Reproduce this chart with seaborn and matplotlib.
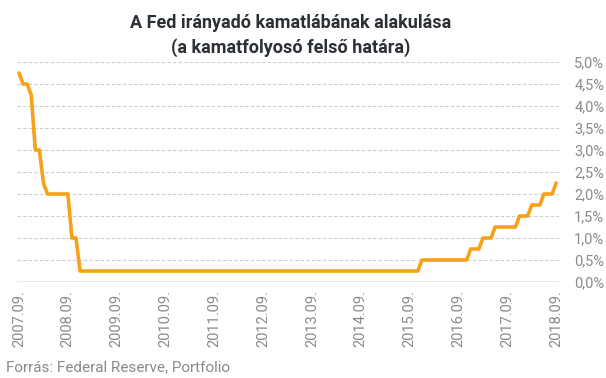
import numpy as np
import pandas as pd
import matplotlib
matplotlib.use("Agg")
import matplotlib.pyplot as plt
import seaborn as sns

# Fed funds target, upper bound (%), monthly from 2007.09 to 2018.09
rate = [
    4.75, 4.5, 4.5, 4.25,                                              # 2007.09-12
    3.0, 3.0, 2.25, 2.0, 2.0, 2.0, 2.0, 2.0, 2.0, 1.0, 1.0, 0.25,      # 2008
    0.25, 0.25, 0.25, 0.25, 0.25, 0.25, 0.25, 0.25, 0.25, 0.25, 0.25, 0.25,  # 2009
    0.25, 0.25, 0.25, 0.25, 0.25, 0.25, 0.25, 0.25, 0.25, 0.25, 0.25, 0.25,  # 2010
    0.25, 0.25, 0.25, 0.25, 0.25, 0.25, 0.25, 0.25, 0.25, 0.25, 0.25, 0.25,  # 2011
    0.25, 0.25, 0.25, 0.25, 0.25, 0.25, 0.25, 0.25, 0.25, 0.25, 0.25, 0.25,  # 2012
    0.25, 0.25, 0.25, 0.25, 0.25, 0.25, 0.25, 0.25, 0.25, 0.25, 0.25, 0.25,  # 2013
    0.25, 0.25, 0.25, 0.25, 0.25, 0.25, 0.25, 0.25, 0.25, 0.25, 0.25, 0.25,  # 2014
    0.25, 0.25, 0.25, 0.25, 0.25, 0.25, 0.25, 0.25, 0.25, 0.25, 0.25, 0.5,   # 2015
    0.5, 0.5, 0.5, 0.5, 0.5, 0.5, 0.5, 0.5, 0.5, 0.5, 0.5, 0.75,            # 2016
    0.75, 0.75, 1.0, 1.0, 1.0, 1.25, 1.25, 1.25, 1.25, 1.25, 1.25, 1.5,     # 2017
    1.5, 1.5, 1.75, 1.75, 1.75, 2.0, 2.0, 2.0, 2.25,                        # 2018.01-09
]

tick_labels = ["2007.09.", "2008.09.", "2009.09.", "2010.09.", "2011.09.", "2012.09.",
               "2013.09.", "2014.09.", "2015.09.", "2016.09.", "2017.09.", "2018.09."]
y_ticks = [0.0, 0.5, 1.0, 1.5, 2.0, 2.5, 3.0, 3.5, 4.0, 4.5, 5.0]

df = pd.DataFrame({"month": np.arange(len(rate)), "rate": rate})

sns.set_theme(style="white")
plt.rcParams["font.family"] = ["Roboto", "DejaVu Sans"]

fig = plt.figure(figsize=(6.06, 3.78), dpi=100)
ax = fig.add_axes([17 / 606, 1 - 282 / 378, (559 - 17) / 606, (282 - 62) / 378])

for v in y_ticks[1:]:
    ax.axhline(v, color="#cccccc", lw=0.8, ls=(0, (3, 2)), zorder=0)
ax.axhline(0, color="#8c8c8c", lw=1.0, zorder=1)

sns.lineplot(data=df, x="month", y="rate", color="#F7A11A", lw=2.6, ax=ax)

ax.set_xlim(-0.5, len(rate) - 0.3)
ax.set_ylim(0, 5.0)
ax.set_xticks(np.arange(0, len(rate), 12))
ax.set_xticklabels(tick_labels, rotation=90, fontsize=10.5, color="#8a8a8a")
ax.set_yticks(y_ticks)
ax.set_yticklabels([f"{v:.1f}%".replace(".", ",") for v in y_ticks],
                   fontsize=10.5, color="#8a8a8a")
ax.yaxis.tick_right()
ax.tick_params(axis="y", length=0, pad=11)
ax.tick_params(axis="x", length=0, pad=6)
ax.set_xlabel("")
ax.set_ylabel("")
for s in ax.spines.values():
    s.set_visible(False)

fig.text(291 / 606, 1 - 14 / 378, "A Fed irányadó kamatlábának alakulása\n(a kamatfolyosó felső határa)",
         ha="center", va="top", fontsize=13, fontweight="bold", color="#2b2f36", linespacing=1.4)
fig.text(6 / 606, 1 - 367 / 378, "Forrás: Federal Reserve, Portfolio",
         ha="left", va="center", fontsize=11, color="#8a8a8a")

fig.savefig("out.png", dpi=100, facecolor="white")
